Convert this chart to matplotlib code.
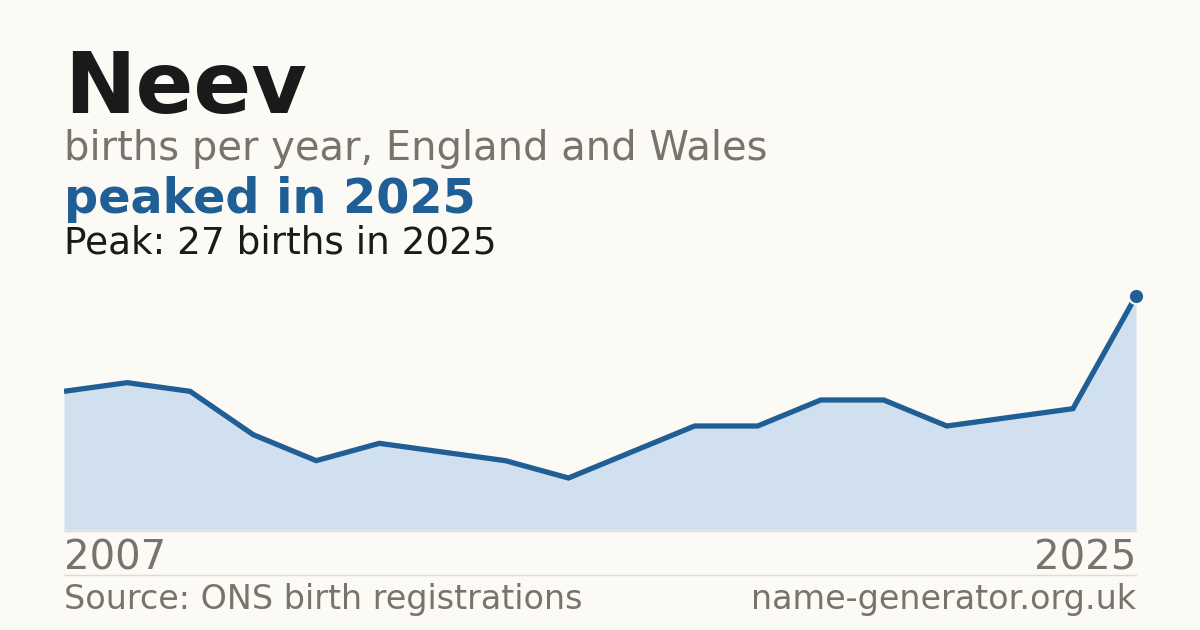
import matplotlib.pyplot as plt

plt.rcParams["font.family"] = ["DejaVu Sans"]

# births per year for the name, in order of the chart
years = [2007, 2008, 2009, 2010, 2011, 2012, 2013, 2014, 2015,
         2016, 2017, 2018, 2019, 2021, 2022, 2023, 2024, 2025]
births = [16, 17, 16, 11, 8, 10, 9, 8, 6, 9, 12, 12, 15, 15, 12, 13, 14, 27]

name = "Neev"
subtitle = "births per year, England and Wales"
headline = "peaked in 2025"
peak_note = "Peak: 27 births in 2025"
source = "Source: ONS birth registrations"
site = "name-generator.org.uk"

BG = "#fbfaf5"
BLUE = "#1f5f96"
FILL = "#d0e0ef"
GREY = "#77736d"
DARK = "#1a1a1a"
RULE = "#dddbd5"

W, H = 1200, 630
fig = plt.figure(figsize=(12, 6.3), dpi=100, facecolor=BG)


def fy(py):
    return 1 - py / H


# plot area: x from 64 to 1136 px, zero at y=530, 30 births = 260 px
ax = fig.add_axes([64 / W, 100 / H, 1072 / W, 260 / H])
ax.set_facecolor(BG)
xs = list(range(len(births)))
ax.fill_between(xs, births, 0, color=FILL, linewidth=0)
ax.plot(xs, births, color=BLUE, linewidth=3.8, solid_joinstyle="miter",
        solid_capstyle="butt")
ax.plot(xs[-1], births[-1], "o", color=BLUE, markersize=11,
        markeredgecolor=BG, markeredgewidth=1.5, clip_on=False, zorder=5)
ax.set_xlim(xs[0], xs[-1])
ax.set_ylim(0, 30)
ax.axis("off")

# rules
fig.add_artist(plt.Line2D([64 / W, 1136 / W], [fy(530.5)] * 2, color=RULE, lw=1))
fig.add_artist(plt.Line2D([64 / W, 1136 / W], [fy(574.5)] * 2, color=RULE, lw=1))

# header texts
fig.text(64 / W, fy(113), name, fontsize=61.5, fontweight="bold", color=DARK, va="baseline")
fig.text(64 / W, fy(160), subtitle, fontsize=28.8, color=GREY, va="baseline")
fig.text(64 / W, fy(213), headline, fontsize=34.4, fontweight="bold", color=BLUE, va="baseline")
fig.text(64 / W, fy(253), peak_note, fontsize=26.9, color=DARK, va="baseline")

# year labels
fig.text(64 / W, fy(569), str(years[0]), fontsize=29, color=GREY, va="baseline")
fig.text(1136 / W, fy(569), str(years[-1]), fontsize=29, color=GREY, va="baseline", ha="right")

# footer
fig.text(64 / W, fy(609), source, fontsize=24, color=GREY, va="baseline")
fig.text(1136 / W, fy(609), site, fontsize=24, color=GREY, va="baseline", ha="right")

fig.savefig("out.png", dpi=100, facecolor=BG)
